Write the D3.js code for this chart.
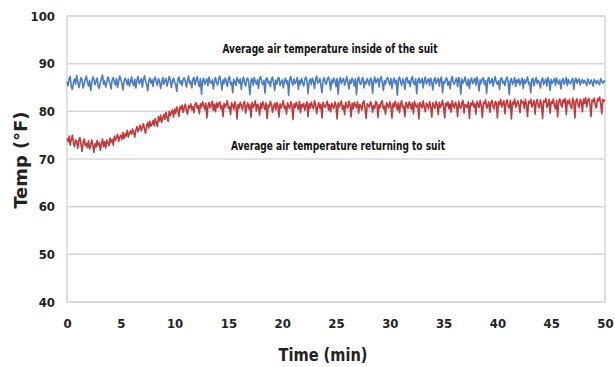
<!DOCTYPE html>
<html><head><meta charset="utf-8">
<script src="https://d3js.org/d3.v7.min.js"></script>
<style>
body{margin:0;background:#fff;}
text{font-family:"Liberation Sans Narrow","DejaVu Sans Condensed","Liberation Sans",Arial,sans-serif;font-weight:bold;}
</style></head><body>
<svg id="c" width="615" height="367"></svg>
<script>
const xTicks = [0,5,10,15,20,25,30,35,40,45,50];
const yTicks = [40,50,60,70,80,90,100];
const timeStep = 0.1;
const insideSuit = [
86.2,85.4,86.9,87.3,85.1,84.6,86.0,86.8,85.7,87.5,86.4,85.0,85.9,87.1,86.6,84.9,85.8,86.7,87.4,86.1,
85.3,86.5,84.4,85.9,87.2,86.8,85.6,86.3,87.0,85.2,84.8,86.1,86.9,87.6,85.7,86.4,85.1,86.0,87.2,86.5,
85.8,84.7,86.6,87.1,86.2,85.5,86.9,85.0,86.3,87.4,86.7,85.9,84.5,86.2,87.0,86.4,85.6,86.8,85.3,86.1,
87.2,86.0,85.4,86.7,84.9,86.5,87.3,85.8,86.2,86.9,85.1,86.6,87.5,86.3,85.7,84.3,86.4,87.0,85.9,86.6,
85.2,86.8,87.2,86.1,85.5,86.9,86.3,84.8,86.0,87.1,85.7,86.5,86.9,85.3,86.2,87.3,86.6,85.0,86.4,87.0,
86.1,85.6,84.2,86.7,87.2,85.9,86.4,85.4,86.8,87.0,86.2,85.1,86.6,87.4,85.8,86.3,84.9,86.7,87.1,85.6,
86.5,87.3,86.0,85.2,86.9,83.6,86.4,87.0,85.7,86.2,86.8,85.4,87.2,86.1,85.9,86.6,84.7,86.3,87.1,86.0,
85.5,86.8,87.4,86.2,84.5,86.6,85.8,87.0,86.3,85.2,86.9,87.3,85.6,86.1,83.9,86.7,86.2,85.4,87.1,86.5,
85.9,86.8,84.6,86.3,87.2,86.0,85.3,86.7,87.0,85.8,83.5,86.4,86.9,85.5,87.1,86.2,85.7,86.6,84.8,86.9,
87.3,86.1,85.6,86.5,83.8,86.8,87.0,85.9,86.3,85.2,86.7,87.2,86.0,84.4,86.5,85.7,86.9,87.1,85.4,86.2,
86.6,84.9,86.3,87.0,85.8,86.4,83.4,86.7,87.3,86.1,85.5,86.8,85.9,86.2,87.1,84.6,86.5,85.7,86.9,86.0,
85.3,86.7,87.2,86.4,83.7,86.1,86.8,85.6,87.0,86.3,84.8,86.6,87.4,85.9,86.2,86.9,85.4,83.9,86.5,87.1,
86.0,85.7,86.8,87.2,86.3,84.5,86.6,85.9,87.0,86.4,85.2,86.9,83.6,86.3,87.1,85.8,86.5,86.9,85.5,86.2,
87.3,86.1,84.7,86.6,85.9,87.0,86.4,85.3,86.8,83.5,86.5,87.2,86.0,85.6,86.7,87.1,84.9,86.3,85.8,86.9,
86.2,85.4,87.0,86.6,83.8,86.3,87.2,85.9,86.5,86.9,85.1,86.7,87.3,86.0,84.4,86.4,85.7,86.8,87.1,86.2,
85.6,86.9,84.8,86.3,87.0,85.8,86.5,83.4,86.7,87.2,86.1,85.5,86.8,86.3,84.6,86.9,87.1,85.9,86.4,85.2,
86.7,87.3,86.0,85.6,86.8,83.7,86.4,87.0,85.9,86.2,86.9,84.9,86.5,87.2,85.7,86.3,86.8,85.4,87.0,86.1,
84.5,86.6,87.1,85.8,86.4,86.9,85.3,86.7,87.2,83.9,86.2,85.9,86.8,87.0,85.5,86.3,84.7,86.6,87.3,86.0,
85.7,86.5,86.9,85.2,87.1,86.3,83.6,86.8,85.9,86.4,87.2,86.0,85.4,86.7,84.8,86.5,87.0,85.8,86.3,86.9,
85.5,87.2,86.1,84.3,86.6,85.9,86.8,87.0,85.6,86.4,83.8,86.7,87.1,85.8,86.2,86.9,85.3,86.5,87.3,86.0,
85.7,86.4,84.6,86.8,87.0,85.9,86.3,85.4,86.7,87.2,86.1,83.5,86.5,86.9,85.6,86.2,87.1,85.2,86.6,86.0,
86.8,85.5,86.3,87.0,84.8,86.6,85.9,86.4,87.2,85.7,86.1,83.9,86.7,86.9,85.4,86.3,87.1,85.8,86.5,86.0,
84.9,86.6,87.0,85.6,86.2,86.8,85.3,87.1,86.4,84.4,86.7,85.9,86.3,86.9,85.5,87.0,86.1,85.8,86.6,84.7,
86.4,86.9,85.7,86.2,87.1,85.4,86.7,86.0,85.8,86.5,86.9,84.6,86.3,87.0,85.9,86.4,86.8,85.5,86.2,86.7,
85.9,86.5,86.0,85.4,86.8,86.2,85.7,86.6,86.1,85.3,86.7,86.3,85.8,86.5,86.0,85.6,86.9,86.2,85.9,86.4,
86.1];
const returningToSuit = [
74.3,73.6,74.8,72.9,74.1,75.0,73.4,72.6,74.0,73.7,72.2,73.9,74.5,73.1,71.6,73.5,74.2,72.8,73.3,72.4,
73.8,72.1,73.0,74.0,72.7,71.4,73.2,72.5,73.9,72.9,73.4,71.8,73.1,74.2,72.6,73.6,72.3,74.0,73.3,72.8,
74.4,73.5,74.1,72.9,74.8,73.9,74.5,75.2,73.7,74.6,75.0,74.1,75.6,74.3,75.3,74.8,76.0,74.6,75.5,75.9,
75.2,76.3,75.5,74.6,76.1,76.8,75.7,76.4,77.1,75.9,76.6,77.4,76.2,75.4,77.0,77.6,76.5,77.9,76.9,77.3,
78.1,77.0,78.5,77.6,76.8,78.9,78.0,79.2,77.7,78.6,79.4,78.3,79.8,78.7,77.9,80.0,79.1,79.7,80.3,78.8,
80.5,79.6,80.9,80.2,78.9,81.0,80.4,81.3,79.8,80.8,81.5,80.1,79.4,81.2,80.7,81.6,80.3,81.0,79.7,81.4,
81.8,80.6,81.2,79.5,81.6,80.9,82.0,81.3,80.4,81.7,78.6,81.1,81.9,80.7,81.4,82.1,80.2,81.5,79.9,81.8,
80.8,81.6,82.0,80.5,81.2,78.9,81.7,80.9,81.4,82.2,80.6,81.0,79.3,81.8,81.3,80.4,82.0,81.1,78.4,81.5,
80.7,81.9,81.2,80.3,81.6,82.1,79.6,81.0,81.8,80.5,81.4,78.7,81.9,80.8,81.3,82.2,80.1,81.5,81.0,79.2,
81.7,80.6,82.0,81.2,80.4,81.8,78.5,81.3,80.9,82.1,81.5,79.8,81.0,81.7,80.3,81.9,81.2,78.8,81.6,80.7,
81.4,82.2,80.5,81.1,79.4,81.8,81.0,80.6,82.0,81.3,78.3,81.6,80.8,81.9,81.2,80.4,82.1,79.7,81.5,80.9,
81.7,80.2,81.3,82.0,78.9,81.6,80.7,81.9,81.1,80.5,82.2,81.4,79.5,81.0,81.8,80.6,81.5,78.6,81.9,81.2,
80.8,81.6,82.1,80.3,81.4,79.9,81.7,81.1,80.6,82.0,81.3,78.4,81.8,80.9,81.5,82.2,80.4,81.2,79.3,81.9,
81.0,80.7,82.1,81.4,78.8,81.7,80.5,81.9,81.2,80.8,82.0,79.6,81.5,81.1,80.3,81.8,82.2,80.6,78.5,81.6,
81.3,80.9,82.0,81.5,79.8,81.2,80.6,82.1,81.7,78.7,81.4,80.8,81.9,82.2,80.5,81.1,79.4,81.8,81.3,80.7,
82.0,81.2,78.6,81.7,80.9,82.1,81.4,80.3,81.8,79.7,81.5,82.2,80.8,81.1,78.9,81.9,81.3,80.6,82.0,81.5,
80.4,81.8,79.5,82.1,81.2,80.9,81.6,78.4,81.9,81.3,80.7,82.2,81.0,79.9,81.7,81.4,80.5,82.0,81.1,78.8,
81.8,81.2,80.6,82.1,81.5,79.3,81.9,80.8,81.4,82.3,80.9,78.6,81.7,81.1,82.0,80.5,81.6,79.8,82.2,81.3,
80.7,81.9,81.4,78.9,82.1,81.0,80.6,81.8,82.3,79.6,81.5,81.2,80.8,82.0,78.5,81.7,81.3,82.2,80.9,81.6,
79.4,82.1,81.5,80.8,82.3,81.2,78.7,81.9,81.6,82.4,80.6,81.3,82.0,79.8,81.7,82.3,81.0,80.5,82.1,81.8,
78.6,82.0,81.4,82.5,80.9,81.7,82.2,79.5,81.8,82.4,81.1,80.7,82.3,78.4,81.9,81.5,82.6,80.8,81.6,82.2,
81.3,79.7,82.4,81.8,82.0,80.6,82.5,81.4,78.9,82.1,81.7,82.6,80.9,81.5,82.3,79.4,81.9,82.5,81.2,80.7,
82.4,81.6,78.5,82.2,81.9,82.7,80.8,81.4,82.5,79.6,82.0,81.7,82.6,81.1,80.5,82.3,78.8,82.1,82.6,81.5,
80.9,82.4,81.8,82.7,79.3,82.2,81.6,82.5,81.0,80.6,82.8,81.9,78.6,82.3,82.6,81.4,80.8,82.5,82.0,79.9,
82.6,81.7,82.9,80.9,82.3,82.7,81.5,78.9,82.4,82.0,82.8,81.3,80.7,82.6,82.2,83.0,81.6,79.5,82.5,82.1,
82.4];
const labels = {inside:"Average air temperature inside of the suit", returning:"Average air temperature returning to suit"};

const svg = d3.select("#c");
const L=67,R=605,T=16,B=302;
const x = d3.scaleLinear().domain([0,50]).range([L,R]);
const y = d3.scaleLinear().domain([40,100]).range([B,T]);

svg.append("g").selectAll("line").data(yTicks).join("line")
  .attr("x1",L).attr("x2",R).attr("y1",d=>y(d)).attr("y2",d=>y(d))
  .attr("stroke","#d4d7dc").attr("stroke-width",1.5);
svg.append("rect").attr("x",L).attr("y",T).attr("width",R-L).attr("height",B-T)
  .attr("fill","none").attr("stroke","#d4d7dc").attr("stroke-width",1.5);

const lineGen = d3.line().x((d,i)=>x(i*timeStep)).y(d=>y(d));
svg.append("path").datum(insideSuit).attr("d",lineGen).attr("fill","none")
  .attr("stroke","#4a7cc4").attr("stroke-width",1.6).attr("stroke-linejoin","round");
svg.append("path").datum(returningToSuit).attr("d",lineGen).attr("fill","none")
  .attr("stroke","#c0393b").attr("stroke-width",1.6).attr("stroke-linejoin","round");

const tickFont = "'Liberation Sans Narrow','DejaVu Sans Condensed',Arial,sans-serif";
const ya = svg.append("g").attr("transform",`translate(${L},0)`)
  .call(d3.axisLeft(y).tickValues(yTicks).tickSize(0).tickPadding(12));
ya.select(".domain").remove();
ya.selectAll("text").attr("font-size",13).attr("fill","#222")
  .style("font-family",tickFont).style("font-weight","bold");

const xa = svg.append("g").attr("transform",`translate(0,${B})`)
  .call(d3.axisBottom(x).tickValues(xTicks).tickSize(0).tickPadding(17));
xa.select(".domain").remove();
xa.selectAll("text").attr("font-size",13).attr("fill","#222")
  .style("font-family",tickFont).style("font-weight","bold");

svg.append("text").attr("x",330).attr("y",53).attr("text-anchor","middle")
  .attr("font-size",11.5).attr("fill","#111")
  .attr("textLength",215).attr("lengthAdjust","spacingAndGlyphs").text(labels.inside);
svg.append("text").attr("x",338).attr("y",150).attr("text-anchor","middle")
  .attr("font-size",11.5).attr("fill","#111")
  .attr("textLength",214).attr("lengthAdjust","spacingAndGlyphs").text(labels.returning);

svg.append("text").attr("x",323).attr("y",361).attr("text-anchor","middle")
  .attr("font-size",18).attr("fill","#222")
  .attr("textLength",89).attr("lengthAdjust","spacingAndGlyphs").text("Time (min)");
svg.append("text").attr("transform",`translate(27,160) rotate(-90)`).attr("text-anchor","middle")
  .attr("font-size",18).attr("fill","#222")
  .attr("textLength",97).attr("lengthAdjust","spacingAndGlyphs").text("Temp (°F)");
</script></body></html>
